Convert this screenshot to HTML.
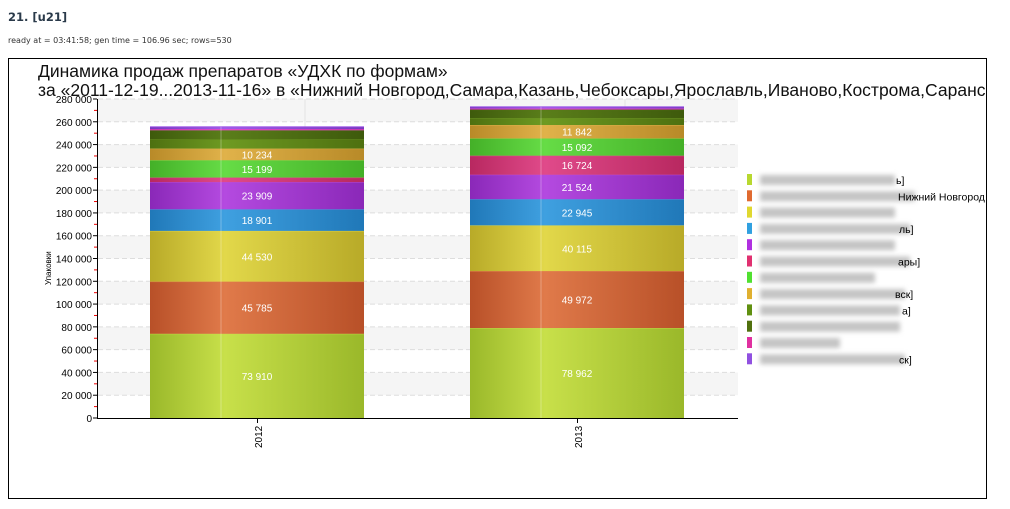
<!DOCTYPE html>
<html><head><meta charset="utf-8"><style>
body{margin:0;width:1010px;height:509px;background:#fff;overflow:hidden;font-family:"Liberation Sans","DejaVu Sans",sans-serif}
</style></head><body>
<svg id="s" width="1010" height="509" xmlns="http://www.w3.org/2000/svg" style="position:absolute;left:0;top:0"></svg>
<script>
const Y0=418,K=319/280000;
const y=v=>Y0-v*K;
let h='';
h+='<text x="8" y="21" font-family="DejaVu Sans,sans-serif" font-weight="bold" font-size="11.5" fill="#2a3a4a">21. [u21]</text>';
h+='<text x="8" y="43" font-family="DejaVu Sans,sans-serif" font-size="8" fill="#333">ready at = 03:41:58; gen time = 106.96 sec; rows=530</text>';
h+='<rect x="8.5" y="58.5" width="978" height="440" fill="#fff" stroke="#000" stroke-width="1"/>';
h+='<svg x="9" y="59" width="977" height="439" overflow="hidden"><text x="29" y="18" font-size="17.5" fill="#111">Динамика продаж препаратов «УДХК по формам»</text><text x="29" y="37" font-size="17.5" fill="#111">за «2011-12-19...2013-11-16» в «Нижний Новгород,Самара,Казань,Чебоксары,Ярославль,Иваново,Кострома,Саранск»</text></svg>';
for(let v=0;v<280000;v+=20000){
  if((v/20000)%2==1) h+=`<rect x="98" y="${y(v+20000)}" width="640" height="${20000*K}" fill="#f5f5f5"/>`;
}
for(let v=20000;v<=280000;v+=20000) h+=`<line x1="98" x2="738" y1="${y(v)}" y2="${y(v)}" stroke="#ddd" stroke-dasharray="5,3"/>`;
h+='<line x1="305" x2="305" y1="99" y2="418" stroke="#e4e4e4"/><line x1="625" x2="625" y1="99" y2="418" stroke="#e4e4e4"/>';
const cols={lg:'#c8e04a',or:'#e07a4a',ye:'#e2d84a',bl:'#3fa0e0',pu:'#b44ae0',pk:'#e04a8a',gr:'#66dc46',go:'#e0b24a',dg:'#6e9a22',dg2:'#5a7e1a',mg:'#e04ac8',vi:'#a05ae8'};
const dk={lg:'#9ab82a',or:'#b85028',ye:'#b8aa28',bl:'#2078b8',pu:'#8a28b8',pk:'#b82860',gr:'#44b028',go:'#b88a28',dg:'#4e7010',dg2:'#3e5a0c',mg:'#b828a0',vi:'#7838c0'};
let defs='<defs>';
for(const k in cols){defs+=`<linearGradient id="g${k}"><stop offset="0" stop-color="${dk[k]}"/><stop offset="0.35" stop-color="${cols[k]}"/><stop offset="1" stop-color="${dk[k]}"/></linearGradient>`;}
defs+='<filter id="bl" x="-10%" y="-100%" width="120%" height="300%"><feGaussianBlur stdDeviation="2.5"/></filter></defs>';
h=defs+h;
const bars=[[150,[['lg',73910,'73 910'],['or',45785,'45 785'],['ye',44530,'44 530'],['bl',18901,'18 901'],['pu',23909,'23 909'],['pk',4000],['gr',15199,'15 199'],['go',10234,'10 234'],['dg',8000],['dg2',8000],['mg',1200],['vi',2000]]],
[470,[['lg',78962,'78 962'],['or',49972,'49 972'],['ye',40115,'40 115'],['bl',22945,'22 945'],['pu',21524,'21 524'],['pk',16724,'16 724'],['gr',15092,'15 092'],['go',11842,'11 842'],['dg',6000],['dg2',7500],['mg',1000],['vi',1500]]]];
for(const [x,segs] of bars){let c=0;for(const [k,v,l] of segs){const t=y(c+v),b=y(c);
 h+=`<rect x="${x}" y="${t}" width="214" height="${b-t}" fill="url(#g${k})"/><line x1="${x}" x2="${x+214}" y1="${t}" y2="${t}" stroke="${cols[k]}" stroke-opacity="0.9"/>`;
 if(l)h+=`<text x="${x+107}" y="${(t+b)/2+4}" text-anchor="middle" font-size="10" fill="#fff">${l}</text>`;c+=v;}
 h+=`<line x1="${x+71}" x2="${x+71}" y1="${y(c)}" y2="418" stroke="#fff" stroke-opacity="0.3"/>`;}
h+='<line x1="97.5" x2="97.5" y1="99" y2="419" stroke="#000"/><line x1="97" x2="738" y1="418.5" y2="418.5" stroke="#000"/>';
for(let v=0;v<=280000;v+=20000){h+=`<line x1="93" x2="97" y1="${y(v)}" y2="${y(v)}" stroke="#000"/><text x="92" y="${y(v)+4}" text-anchor="end" font-size="10" fill="#000">${v?(v/1000)+' 000':'0'}</text>`;
 if(v<280000)h+=`<line x1="94" x2="97" y1="${y(v+10000)}" y2="${y(v+10000)}" stroke="#e00"/>`;}
h+='<line x1="257.5" x2="257.5" y1="419" y2="423" stroke="#000"/><line x1="577.5" x2="577.5" y1="419" y2="423" stroke="#000"/>';
h+='<text transform="translate(262,448) rotate(-90)" font-size="10">2012</text><text transform="translate(582,448) rotate(-90)" font-size="10">2013</text>';
h+='<text transform="translate(51,285) rotate(-90)" font-size="8">Упаковки</text>';
const lc=['#b8d830','#e06a30','#e0d830','#30a0e0','#b030e0','#e03070','#50e030','#e0b030','#609010','#50700e','#e030a0','#9050e0'];
const suf=['ь]','Нижний Новгород','','ль]','','ары]','','вск]','а]','','','ск]'];
for(let i=0;i<12;i++){const yy=180+i*16.3;
 h+=`<rect x="747" y="${yy-6}" width="5" height="11" fill="${lc[i]}"/>`;
 h+=`<rect x="760" y="${yy-5}" width="${[135,155,135,150,135,150,115,145,140,140,80,145][i]}" height="10" fill="#c4c4c4" filter="url(#bl)"/>`;
 if(suf[i])h+=`<text x="${[896,898,0,899,0,898,0,895,902,0,0,899][i]}" y="${yy+4}" font-size="10.5" fill="#000">${suf[i]}</text>`;}
document.getElementById('s').innerHTML=h;
</script>
</body></html>
